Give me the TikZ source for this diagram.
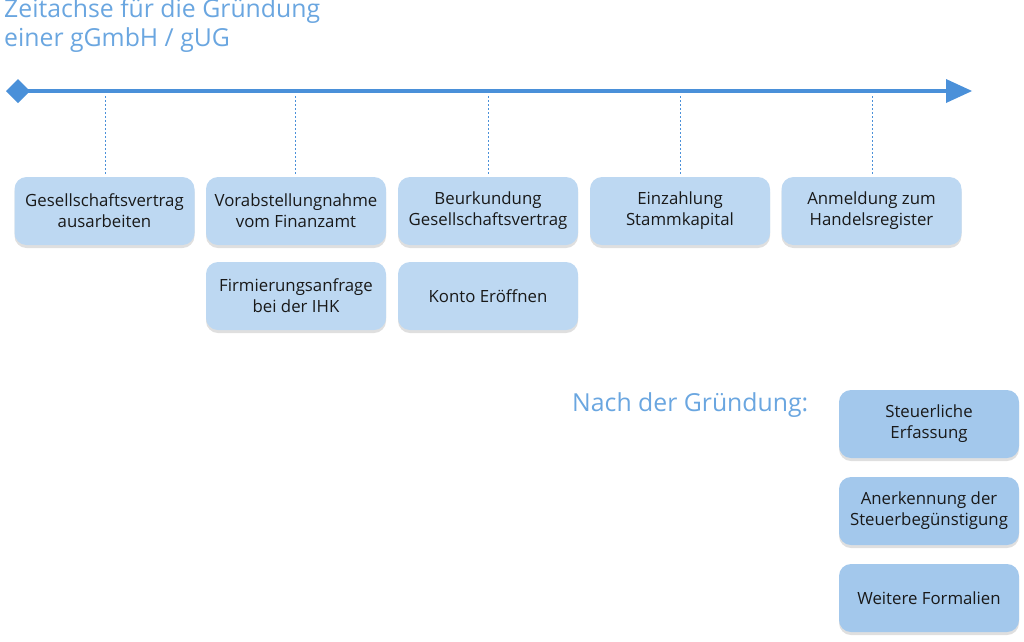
\documentclass[tikz,border=0pt]{standalone}
\usepackage{fontspec}
\setmainfont{Open Sans}
\usetikzlibrary{shadows}
\definecolor{tl}{HTML}{4A90D9}
\definecolor{ttl}{HTML}{6AA6E0}
\definecolor{bx}{HTML}{BDD8F2}
\definecolor{bxd}{HTML}{A3C8EC}
\tikzset{
 box/.style={rounded corners=12pt,fill=bx,minimum width=180pt,minimum height=68pt,align=center,font=\fontsize{16.8}{21}\selectfont,text=black!90,inner sep=1pt,drop shadow={shadow xshift=0pt,shadow yshift=-3pt,opacity=0.25}},
 boxd/.style={box,fill=bxd},
 tick/.style={tl,line width=0.6pt,dash pattern=on 2pt off 2pt},
 ttext/.style={text=ttl,font=\fontsize{24.8}{29}\selectfont,align=left}
}
\begin{document}
\begin{tikzpicture}[x=1pt,y=-1pt]
\useasboundingbox (0,0) rectangle (1024,641);
\node[ttext,anchor=north west,inner sep=0] (title) at (4,-2) {Zeitachse für die Gründung\\einer gGmbH / gUG};
\coordinate (ts) at (18,91);
\coordinate (te) at (972,91);
\draw[tl,line width=4pt] (ts) -- (958,91);
\fill[tl] (te) -- (946,79) -- (946,103) -- cycle;
\fill[tl] (6,91) -- (18,79) -- (30,91) -- (18,103) -- cycle;
\node[box] (b1) at (104.5,211) {Gesellschaftsvertrag\\ausarbeiten};
\node[box] (b2) at (296,211) {Vorabstellungnahme\\vom Finanzamt};
\node[box] (b3) at (488,211) {Beurkundung\\Gesellschaftsvertrag};
\node[box] (b4) at (680,211) {Einzahlung\\Stammkapital};
\node[box] (b5) at (871.5,211) {Anmeldung zum\\Handelsregister};
\node[box] (b6) at (296,296) {Firmierungsanfrage\\bei der IHK};
\node[box] (b7) at (488,296) {Konto Eröffnen};
\foreach \x in {105,295,488,680,872}
  \draw[tick] (\x,96) -- (\x,175);
\node[ttext,anchor=west,inner sep=0] (nach) at (572,405) {Nach der Gründung:};
\node[boxd] (c1) at (929,424) {Steuerliche\\Erfassung};
\node[boxd] (c2) at (929,511) {Anerkennung der\\Steuerbegünstigung};
\node[boxd] (c3) at (929,598) {Weitere Formalien};
\end{tikzpicture}
\end{document}
